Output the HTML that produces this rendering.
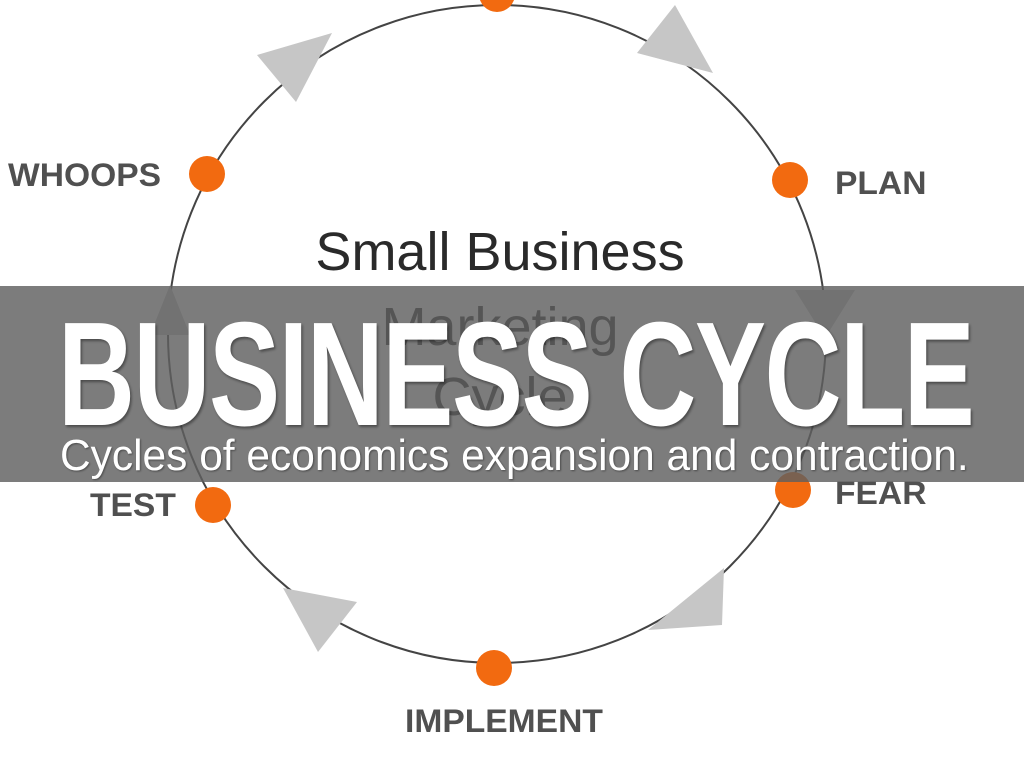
<!DOCTYPE html>
<html><head><style>
body{margin:0;width:1024px;height:768px;overflow:hidden;background:#fff;position:relative;font-family:"Liberation Sans",sans-serif}
.lbl{position:absolute;font-weight:bold;color:#505050;font-size:32px;line-height:1;transform-origin:left top;transform:scaleX(1.05)}
.banner{position:absolute;left:0;top:286px;width:1024px;height:196px;background:rgba(95,95,95,0.82)}
.t{position:absolute;color:#fff;white-space:nowrap;transform-origin:left top}
</style></head><body>
<svg width="1024" height="768" style="position:absolute;left:0;top:0">
<circle cx="497" cy="334" r="329" fill="none" stroke="#444" stroke-width="2"/>
<g fill="#c6c6c6">
<polygon points="257,55 332,33 296,102"/>
<polygon points="675,5 713,73 637,53"/>
<polygon points="283,588 357,602 318,652"/>
<polygon points="724,568 722,625 648,630"/>
<polygon points="795,290 855,290 825,338"/>
<polygon points="150,335 190,335 170,285"/>
</g>
<g fill="#f26a10">
<circle cx="497" cy="-6" r="18"/>
<circle cx="207" cy="174" r="18"/>
<circle cx="790" cy="180" r="18"/>
<circle cx="213" cy="505" r="18"/>
<circle cx="793" cy="490" r="18"/>
<circle cx="494" cy="668" r="18"/>
</g>
<g font-family="Liberation Sans,sans-serif" font-size="54" fill="#2a2a2a" text-anchor="middle">
<text x="500" y="270">Small Business</text>
<text x="500" y="345">Marketing</text>
<text x="500" y="415">Cycle</text>
</g>
</svg>
<div class="lbl" style="left:8px;top:159px">WHOOPS</div>
<div class="lbl" style="left:835px;top:167px">PLAN</div>
<div class="lbl" style="left:90px;top:489px">TEST</div>
<div class="lbl" style="left:835px;top:477px">FEAR</div>
<div class="lbl" style="left:405px;top:705px">IMPLEMENT</div>
<div class="banner"></div>
<div class="t" style="left:58px;top:290px;font-size:148px;font-weight:bold;letter-spacing:-2px;transform:scaleX(0.72);text-shadow:2px 2px 3px rgba(0,0,0,.4)">BUSINESS CYCLE</div>
<div class="t" style="left:60px;top:431px;font-size:44px;transform:scaleX(0.965);text-shadow:1px 1px 2px rgba(0,0,0,.4)">Cycles of economics expansion and contraction.</div>
</body></html>
